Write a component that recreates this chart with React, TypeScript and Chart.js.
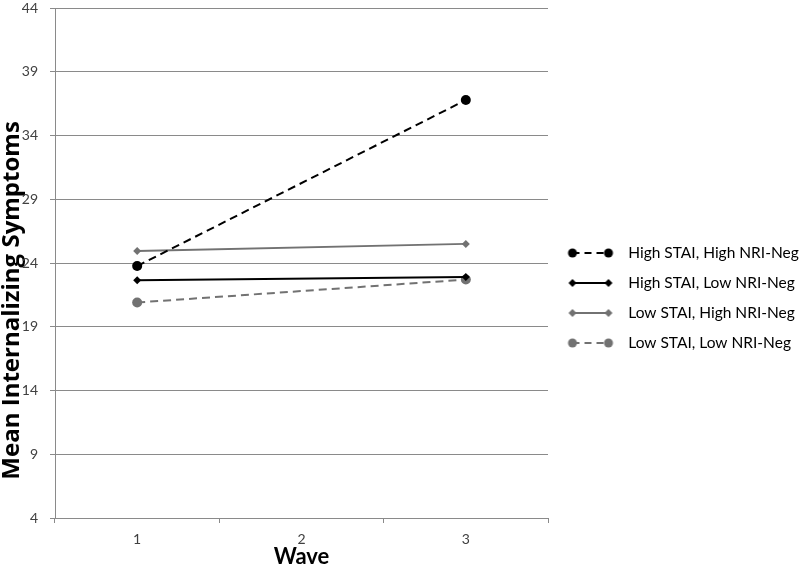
import React, { useEffect, useRef } from "react";
import { Chart, registerables } from "chart.js";

Chart.register(...registerables);

const waves = ["1", "2", "3"];
const highHigh = [23.76, null, 36.78];
const highLow = [22.65, null, 22.9];
const lowHigh = [24.95, null, 25.5];
const lowLow = [20.9, null, 22.7];
const seriesNames = [
  "High STAI, High NRI-Neg",
  "High STAI, Low NRI-Neg",
  "Low STAI, High NRI-Neg",
  "Low STAI, Low NRI-Neg",
];
const yTicks = [4, 9, 14, 19, 24, 29, 34, 39, 44];
const yTitle = "Mean Internalizing Symptoms";

const BLACK = "#000000";
const GRAY = "#727272";
const GRID = "#8a8a8a";
const FONT = "Lato, 'Open Sans', sans-serif";

function legendIcon(color: string, style: string, dashed: boolean) {
  const c = document.createElement("canvas");
  c.width = 58;
  c.height = 14;
  const ctx = c.getContext("2d")!;
  ctx.strokeStyle = color;
  ctx.fillStyle = color;
  ctx.lineWidth = 2;
  if (dashed) ctx.setLineDash([7, 5]);
  ctx.beginPath();
  ctx.moveTo(10, 7);
  ctx.lineTo(46, 7);
  ctx.stroke();
  ctx.setLineDash([]);
  const mark = (x: number) => {
    ctx.beginPath();
    if (style === "circle") {
      ctx.arc(x, 7, 4.5, 0, Math.PI * 2);
    } else {
      ctx.moveTo(x, 3);
      ctx.lineTo(x + 4, 7);
      ctx.lineTo(x, 11);
      ctx.lineTo(x - 4, 7);
      ctx.closePath();
    }
    ctx.fill();
  };
  mark(10);
  mark(46);
  return c;
}

export default function App() {
  const ref = useRef<HTMLCanvasElement>(null);
  useEffect(() => {
    document.body.style.margin = "0";
    const specs = [
      { data: highHigh, color: BLACK, style: "circle", dashed: true, r: 5 },
      { data: highLow, color: BLACK, style: "rectRot", dashed: false, r: 4 },
      { data: lowHigh, color: GRAY, style: "rectRot", dashed: false, r: 4 },
      { data: lowLow, color: GRAY, style: "circle", dashed: true, r: 5 },
    ];
    const icons = specs.map((s) => legendIcon(s.color, s.style, s.dashed));
    const chart = new Chart(ref.current!, {
      type: "line",
      data: {
        labels: waves,
        datasets: specs.map((s, i) => ({
          label: seriesNames[i],
          data: s.data,
          borderColor: s.color,
          backgroundColor: s.color,
          borderWidth: 2,
          borderDash: s.dashed ? [8, 5] : [],
          pointStyle: s.style as any,
          pointRadius: s.r,
          pointBorderWidth: 0,
          pointBackgroundColor: s.color,
          spanGaps: true,
          tension: 0,
        })),
      },
      options: {
        animation: false,
        responsive: true,
        maintainAspectRatio: false,
        layout: { padding: { top: 0, right: 0, bottom: 0, left: 0 } },
        plugins: {
          tooltip: { enabled: false },
          legend: {
            position: "right",
            maxWidth: 252,
            title: {
              display: true,
              text: " ",
              font: { size: 10, lineHeight: 1 },
              padding: 6,
            },
            labels: {
              usePointStyle: true,
              pointStyleWidth: 58,
              padding: 14.5,
              color: "#000",
              font: { family: FONT, size: 15.5 },
              generateLabels: () =>
                seriesNames.map((n, i) => ({
                  text: n,
                  pointStyle: icons[i] as any,
                  fillStyle: specs[i].color,
                  strokeStyle: specs[i].color,
                  lineWidth: 0,
                  hidden: false,
                  datasetIndex: i,
                  fontColor: "#000",
                })),
            },
          },
        },
        scales: {
          x: {
            type: "category",
            offset: true,
            grid: {
              offset: true,
              drawOnChartArea: false,
              drawTicks: true,
              tickLength: 5,
              color: GRID,
            },
            border: { color: GRID, width: 1 },
            ticks: { color: "#404040", font: { family: FONT, size: 14 }, padding: 8 },
            title: {
              display: true,
              text: "Wave",
              color: "#000",
              font: { family: FONT, size: 22, weight: "bold", lineHeight: 1 },
              padding: { top: 0, bottom: 6 },
            },
            afterFit: (axis: any) => {
              axis.height = 56;
            },
          },
          y: {
            min: 4,
            max: 44,
            afterBuildTicks: (axis: any) => {
              axis.ticks = yTicks.map((v) => ({ value: v }));
            },
            afterFit: (axis: any) => {
              axis.width = 55;
              axis.paddingTop = 8;
              axis.paddingBottom = 0;
            },
            grid: { color: GRID, lineWidth: 1, tickLength: 5 },
            border: { color: GRID, width: 1 },
            ticks: { color: "#404040", font: { family: FONT, size: 14 }, padding: 12 },
            title: {
              display: true,
              text: yTitle + "            ",
              color: "#000",
              font: { family: "'Open Sans', sans-serif", size: 24, weight: "bold", lineHeight: 1 },
              padding: { top: 0, bottom: 0 },
            },
          },
        },
      },
    });
    return () => chart.destroy();
  }, []);
  return (
    <div style={{ position: "fixed", left: 0, top: 0, width: 800, height: 574, background: "#fff" }}>
      <canvas ref={ref} />
    </div>
  );
}
